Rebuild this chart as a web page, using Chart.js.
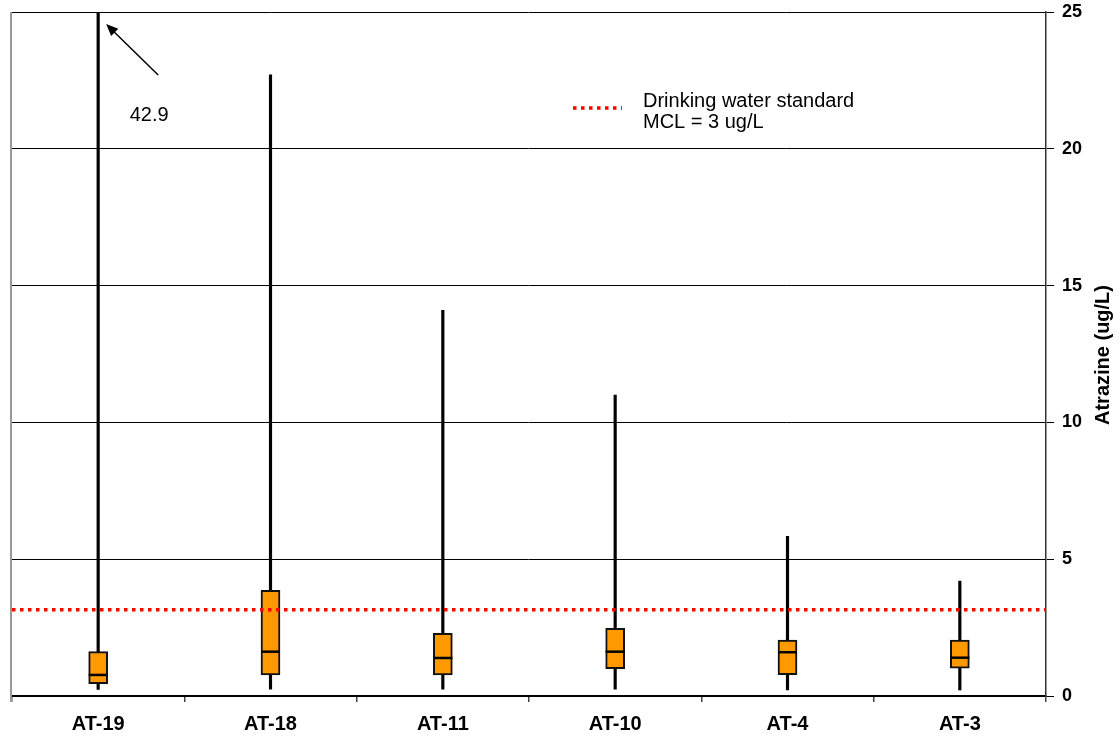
<!DOCTYPE html>
<html>
<head>
<meta charset="utf-8">
<script src="https://cdn.jsdelivr.net/npm/chart.js@4/dist/chart.umd.min.js"></script>
<style>
  html, body { margin: 0; padding: 0; background: #fff; }
  #wrap { width: 1120px; height: 740px; }
</style>
</head>
<body>
<div id="wrap"><canvas id="chart" width="1120" height="740"></canvas></div>
<script>
// wells, left to right
var wells = ['AT-19', 'AT-18', 'AT-11', 'AT-10', 'AT-4', 'AT-3'];
// atrazine, ug/L
var minVals    = [0.24, 0.25, 0.25, 0.25, 0.22, 0.22];
var q1Vals     = [0.45, 0.77, 0.77, 1.00, 0.78, 1.02];
var medianVals = [0.77, 1.62, 1.39, 1.62, 1.60, 1.40];
var q3Vals     = [1.62, 3.86, 2.29, 2.47, 2.04, 2.04];
var maxVals    = [42.9, 22.7, 14.1, 11.0, 5.84, 4.2];
var yTicks = [0, 5, 10, 15, 20, 25];
var mcl = 3.15;   // dotted line as drawn
var offScaleLabel = '42.9';

var FONT = '"Liberation Sans", Arial, sans-serif';

var whiskers = wells.map(function(w, i) { return [minVals[i], maxVals[i]]; });
var boxes = wells.map(function(w, i) { return [q1Vals[i], q3Vals[i]]; });

var extras = {
    id: 'extras',
    afterDatasetsDraw: function(chart) {
        var ctx = chart.ctx;
        var area = chart.chartArea;
        var x = chart.scales.x, y = chart.scales.y;
        ctx.save();

        // left frame edge
        ctx.strokeStyle = '#999';
        ctx.lineWidth = 2;
        ctx.beginPath();
        ctx.moveTo(area.left - 1, area.top);
        ctx.lineTo(area.left - 1, area.bottom + 6);
        ctx.stroke();

        // MCL line
        var yl = y.getPixelForValue(mcl);
        ctx.strokeStyle = '#ff0000';
        ctx.lineWidth = 3.5;
        ctx.setLineDash([3.5, 4.5]);
        ctx.beginPath();
        ctx.moveTo(area.left, yl);
        ctx.lineTo(area.right, yl);
        ctx.stroke();

        // legend
        ctx.beginPath();
        ctx.moveTo(573, 108);
        ctx.lineTo(622, 108);
        ctx.stroke();
        ctx.setLineDash([]);
        ctx.fillStyle = '#000';
        ctx.font = '20px ' + FONT;
        ctx.textBaseline = 'middle';
        ctx.textAlign = 'left';
        ctx.fillText('Drinking water standard', 643, 101);
        ctx.fillText('MCL = 3 ug/L', 643, 122);

        // off-scale arrow for AT-19
        var tipX = x.getPixelForValue(0) + 8, tipY = area.top + 12;
        var tailX = tipX + 52, tailY = tipY + 51;
        ctx.strokeStyle = '#000';
        ctx.lineWidth = 1.5;
        ctx.beginPath();
        ctx.moveTo(tailX, tailY);
        ctx.lineTo(tipX + 5, tipY + 5);
        ctx.stroke();
        var ang = Math.atan2(tipY - tailY, tipX - tailX);
        ctx.beginPath();
        ctx.moveTo(tipX, tipY);
        ctx.lineTo(tipX - 13 * Math.cos(ang - 0.4), tipY - 13 * Math.sin(ang - 0.4));
        ctx.lineTo(tipX - 13 * Math.cos(ang + 0.4), tipY - 13 * Math.sin(ang + 0.4));
        ctx.closePath();
        ctx.fill();
        ctx.textAlign = 'center';
        ctx.fillText(offScaleLabel, x.getPixelForValue(0) + 51, 115);

        // y title, reads bottom to top
        ctx.font = 'bold 20px ' + FONT;
        ctx.translate(1103, (area.top + area.bottom) / 2 + 1);
        ctx.rotate(-Math.PI / 2);
        ctx.fillText('Atrazine (ug/L)', 0, 0);
        ctx.restore();
    }
};

new Chart(document.getElementById('chart'), {
    type: 'bar',
    data: {
        labels: wells,
        datasets: [
            {
                type: 'line',
                label: 'median',
                data: medianVals,
                showLine: false,
                pointStyle: 'line',
                pointRadius: 9.5,
                pointBorderWidth: 2.5,
                pointBorderColor: '#000',
                order: 0
            },
            {
                label: 'box',
                data: boxes,
                backgroundColor: '#ff9900',
                borderColor: '#111',
                borderWidth: 2,
                borderSkipped: false,
                barThickness: 19,
                grouped: false,
                order: 1
            },
            {
                label: 'range',
                data: whiskers,
                backgroundColor: '#000',
                borderWidth: 0,
                barThickness: 2.5,
                grouped: false,
                order: 2
            }
        ]
    },
    options: {
        responsive: false,
        animation: false,
        layout: { padding: { left: 10, top: 11, right: 0, bottom: 0 } },
        plugins: { legend: { display: false }, tooltip: { enabled: false } },
        scales: {
            x: {
                grid: { drawOnChartArea: false, drawTicks: true, tickLength: 6, color: '#444', lineWidth: 1.5 },
                border: { display: true, color: '#000', width: 2 },
                ticks: { color: '#000', font: { family: FONT, size: 20, weight: 'bold' }, padding: 10 },
                afterFit: function(s) { s.height = 44; }
            },
            y: {
                position: 'right',
                min: 0,
                max: 25,
                afterBuildTicks: function(s) { s.ticks = yTicks.map(function(v) { return { value: v }; }); },
                grid: { color: '#000', lineWidth: 1, tickLength: 8 },
                border: { display: true, color: '#333', width: 1.5 },
                ticks: { color: '#000', font: { family: FONT, size: 18, weight: 'bold' }, padding: 8 },
                afterFit: function(s) { s.width = 74; s.paddingTop = 0; s.paddingBottom = 0; }
            }
        }
    },
    plugins: [extras]
});
</script>
</body>
</html>
